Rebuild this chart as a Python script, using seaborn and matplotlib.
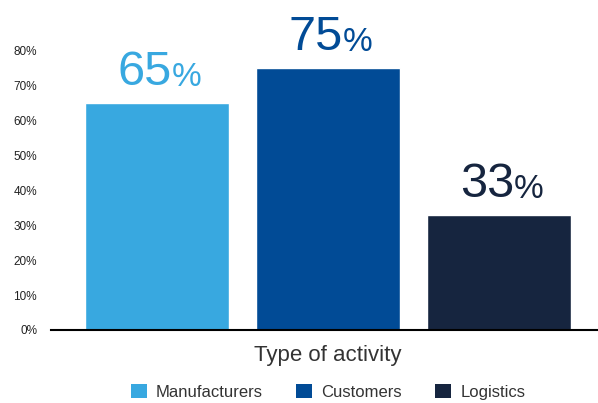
import matplotlib
matplotlib.use("Agg")
import matplotlib.pyplot as plt
import seaborn as sns
import pandas as pd
from matplotlib.patches import Patch

categories = ["Manufacturers", "Customers", "Logistics"]
values = [65, 75, 33]
colors = ["#38A8E0", "#014B96", "#16253F"]
yticks = [0, 10, 20, 30, 40, 50, 60, 70, 80]

sns.set_style("white")
plt.rcParams['font.family'] = ['Liberation Sans', 'DejaVu Sans']

df = pd.DataFrame({"activity": categories, "share": values})

fig = plt.figure(figsize=(5.98, 4.03), dpi=100)
ax = fig.add_axes([51 / 598, 73 / 403, 547 / 598, 330 / 403])

sns.barplot(data=df, x="activity", y="share", hue="activity",
            palette=colors, width=0.84, legend=False, ax=ax,
            saturation=1)

ax.set_xlim(-0.62, 2.58)
ax.set_ylim(0, 94.6)
ax.set_yticks(yticks)
ax.set_yticklabels([f"{t}%" for t in yticks], fontsize=8.5, color="#222222")
ax.tick_params(axis="y", length=0, pad=10)
ax.set_xticks([])
ax.set_ylabel("")
ax.set_xlabel("Type of activity", fontsize=16, color="#333333")
ax.xaxis.set_label_coords(0.506, -0.076)
ax.xaxis.label.set_va("center")

for s in ["top", "right", "left"]:
    ax.spines[s].set_visible(False)
ax.spines["bottom"].set_color("black")
ax.spines["bottom"].set_linewidth(1.5)

for i, (v, c) in enumerate(zip(values, colors)):
    ax.annotate(str(v), xy=(i, v), xytext=(15, 8), textcoords="offset pixels",
                ha="right", va="bottom", fontsize=35, color=c)
    ax.annotate("%", xy=(i, v), xytext=(15, 10), textcoords="offset pixels",
                ha="left", va="bottom", fontsize=24, color=c)

handles = [Patch(facecolor=c, edgecolor="none", label=n) for n, c in zip(categories, colors)]
fig.legend(handles=handles, loc="center", bbox_to_anchor=(328 / 598, 11 / 403),
           ncol=3, frameon=False, fontsize=12, handlelength=0.95, handleheight=0.95,
           handletextpad=0.55, columnspacing=2.0, labelcolor="#333333")

fig.savefig("out.png", dpi=100)
